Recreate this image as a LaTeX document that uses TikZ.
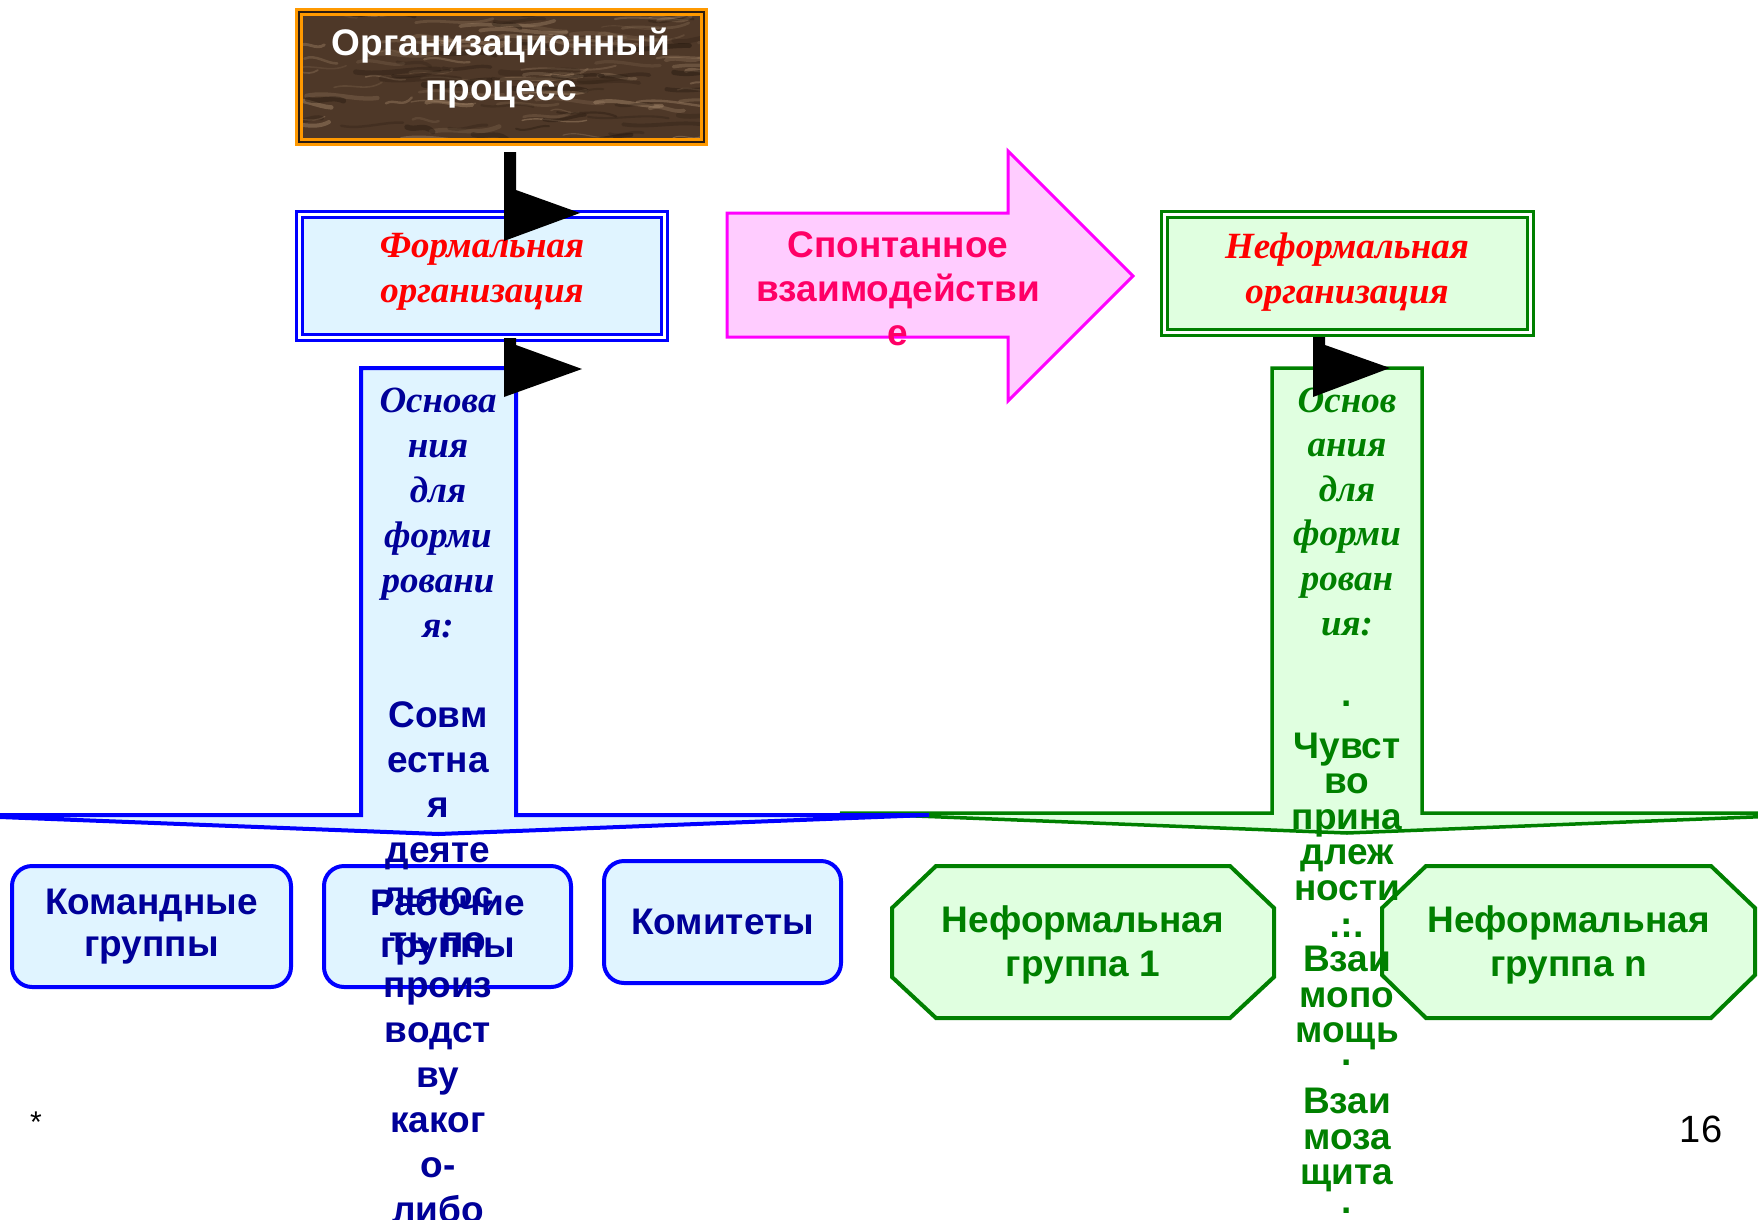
\documentclass[tikz,border=0pt]{standalone}
\usepackage{fontspec}
\setmainfont{Liberation Sans}
\newfontfamily\tnr{Liberation Serif}
\usetikzlibrary{calc}
\definecolor{navy}{HTML}{000099}
\definecolor{lblue}{HTML}{E0F4FF}
\definecolor{lgreen}{HTML}{E0FFE0}
\definecolor{dgreen}{HTML}{008000}
\definecolor{pinkfill}{HTML}{FFCCFF}
\definecolor{magline}{HTML}{FF00FF}
\definecolor{pinktext}{HTML}{FF0066}
\definecolor{orangeline}{HTML}{FF9900}
\definecolor{brownbase}{HTML}{4E3828}
\definecolor{browndark}{HTML}{2A1C12}
\definecolor{texlight}{HTML}{B09274}
\definecolor{texdark}{HTML}{22160D}
\begin{document}
\begin{tikzpicture}[x=1pt,y=-1pt,
  sansbig/.style={font=\fontsize{37}{44}\selectfont\bfseries},
  sanstitle/.style={font=\fontsize{37}{45}\selectfont\bfseries},
  serifbig/.style={font=\fontsize{37}{45}\selectfont\tnr\bfseries\itshape},
  dblbox/.style={double=white, double distance=3.5pt, line width=2.6pt, inner sep=0pt},
  bbox/.style={draw=blue, line width=4pt, fill=lblue, rounded corners=20pt, inner sep=0pt,
    font=\fontsize{37}{42}\selectfont\bfseries, text=navy, align=center},
  octo/.style={draw=dgreen, line width=4pt, fill=lgreen, line join=miter},
  downarrow/.style={line width=4pt, line join=miter},
  blackhead/.style={fill=black},
  coltext/.style={anchor=base, inner sep=0pt}
]
\fill[white] (0,0) rectangle (1758,1220);
\useasboundingbox (0,0) rectangle (1758,1220);

% ---------- top box with texture ----------
\fill[brownbase] (295,8) rectangle (708,146);
\begin{scope}
  \clip (303,16) rectangle (700,138);
  \pgfmathsetseed{11}
  \foreach \k in {1,...,80}{
    \pgfmathsetmacro{\xa}{280+rnd*430}
    \pgfmathsetmacro{\ya}{12+rnd*130}
    \pgfmathsetmacro{\ww}{25+rnd*70}
    \pgfmathsetmacro{\dy}{-6+rnd*12}
    \pgfmathsetmacro{\lw}{1+rnd*3.5}
    \pgfmathsetmacro{\op}{0.12+0.3*rnd}
    \pgfmathsetmacro{\xb}{\xa+\ww/3}
    \pgfmathsetmacro{\xc}{\xa+2*\ww/3}
    \pgfmathsetmacro{\xd}{\xa+\ww}
    \pgfmathsetmacro{\yb}{\ya-5}
    \pgfmathsetmacro{\yc}{\ya+5}
    \pgfmathsetmacro{\yd}{\ya+\dy}
    \draw[texlight, opacity=\op, line width=\lw pt, line cap=round]
      (\xa,\ya) .. controls (\xb,\yb) and (\xc,\yc) .. (\xd,\yd);
  }
  \foreach \k in {1,...,45}{
    \pgfmathsetmacro{\xa}{280+rnd*430}
    \pgfmathsetmacro{\ya}{12+rnd*130}
    \pgfmathsetmacro{\ww}{25+rnd*60}
    \pgfmathsetmacro{\dy}{-5+rnd*10}
    \pgfmathsetmacro{\lw}{2+rnd*4}
    \pgfmathsetmacro{\op}{0.2+0.3*rnd}
    \pgfmathsetmacro{\xb}{\xa+\ww/3}
    \pgfmathsetmacro{\xc}{\xa+2*\ww/3}
    \pgfmathsetmacro{\xd}{\xa+\ww}
    \pgfmathsetmacro{\yb}{\ya+4}
    \pgfmathsetmacro{\yc}{\ya-4}
    \pgfmathsetmacro{\yd}{\ya+\dy}
    \draw[texdark, opacity=\op, line width=\lw pt, line cap=round]
      (\xa,\ya) .. controls (\xb,\yb) and (\xc,\yc) .. (\xd,\yd);
  }
\end{scope}
\node[draw=orangeline, double=browndark, double distance=2pt, line width=2.8pt,
  minimum width=405.4pt, minimum height=130.4pt, inner sep=0pt] (top) at (501.5,77) {};
\node[sanstitle, text=white, align=center] (toptxt) at (501,68) {Организационный\\процесс};

% ---------- formal / informal boxes ----------
\node[draw=blue, fill=lblue, dblbox, minimum width=365.3pt, minimum height=123.3pt] (formal) at (482,276) {};
\node[serifbig, text=red, align=center] (formaltxt) at (482,271.5) {Формальная\\организация};

\node[draw=dgreen, fill=lgreen, dblbox, minimum width=366.3pt, minimum height=118.3pt] (informal) at (1347.5,273.5) {};
\node[serifbig, text=red, align=center] (informaltxt) at (1347,272) {Неформальная\\организация};

% ---------- pink arrow ----------
\draw[draw=magline, fill=pinkfill, line width=3pt, line join=miter]
  (727,213) -- (1008,213) -- (1008,151) -- (1133,276) -- (1008,401) -- (1008,337) -- (727,337) -- cycle;
\node[sansbig, text=pinktext, align=center] (spont) at (898,289) {Спонтанное\\взаимодействи\\е};

% ---------- down arrows ----------
\draw[downarrow, draw=dgreen, fill=lgreen, line width=3.5pt]
  (1272,368) -- (1422,368) -- (1422,813) -- (1854,813) -- (1347,833) -- (840,813) -- (1272,813) -- cycle;
\draw[downarrow, draw=blue, fill=lblue]
  (361,368) -- (516,368) -- (516,815) -- (929,815) -- (438.5,834) -- (-52,815) -- (361,815) -- cycle;

% ---------- bottom boxes ----------
\node[bbox, minimum width=279pt, minimum height=121pt] (cmd) at (151.5,926.5) {Командные\\группы};
\node[bbox, minimum width=247pt, minimum height=121pt] (work) at (447.5,926.5) {Рабочие\\группы};
\node[bbox, minimum width=237pt, minimum height=122pt] (kom) at (722.5,922) {Комитеты};

\draw[octo] (892,908) -- (936,866) -- (1230,866) -- (1274,908) -- (1274,977) -- (1230,1018) -- (936,1018) -- (892,977) -- cycle;
\node[sansbig, text=dgreen, align=center] (g1) at (1083,945) {Неформальная\\группа 1};
\draw[octo] (1382,908) -- (1426,866) -- (1711,866) -- (1755,908) -- (1755,975) -- (1711,1018) -- (1426,1018) -- (1382,975) -- cycle;
\node[sansbig, text=dgreen, align=center] (gn) at (1568.5,945) {Неформальная\\группа n};

% ---------- column texts ----------
\foreach \t [count=\i from 0] in {Основа,ния,для,форми,ровани,я:}{
  \node[coltext, serifbig, text=navy] (lsA\i) at (438,{412+45*\i}) {\t};
}
\foreach \t [count=\i from 0] in {Совм,естна,я,деяте,льнос,ть по,произ,водст,ву,каког,о-,либо}{
  \node[coltext, sansbig, text=navy] (lsB\i) at (438,{727+45*\i}) {\t};
}
\foreach \t [count=\i from 0] in {Основ,ания,для,форми,рован,ия:}{
  \node[coltext, serifbig, text=dgreen] (rsA\i) at (1347,{412+44.6*\i}) {\t};
}
\foreach \t/\yy [count=\i] in {./706,Чувст/758,во/793,прина/829,длеж/864,ности/900,./924,…/937,Взаи/971,мопо/1007,мощь/1042,./1065,Взаи/1113,моза/1149,щита/1184,./1213}{
  \node[coltext, sansbig, text=dgreen] (rsB\i) at (1347,\yy) {\t};
}

% ---------- black arrow connectors ----------
\fill[blackhead] (504,152) -- (516,152) -- (516,190) -- (580,213) -- (504,241) -- cycle;
\fill[blackhead] (504,338) -- (516,338) -- (516,345) -- (582,369) -- (504,397) -- cycle;
\fill[blackhead] (1313,337) -- (1325,337) -- (1325,345) -- (1390,368) -- (1313,397) -- cycle;

% ---------- footer ----------
\node[font=\fontsize{30}{30}\selectfont] (star) at (36,1122) {*};
\node[font=\fontsize{38}{38}\selectfont] (pnum) at (1701,1129) {16};
\end{tikzpicture}
\end{document}
